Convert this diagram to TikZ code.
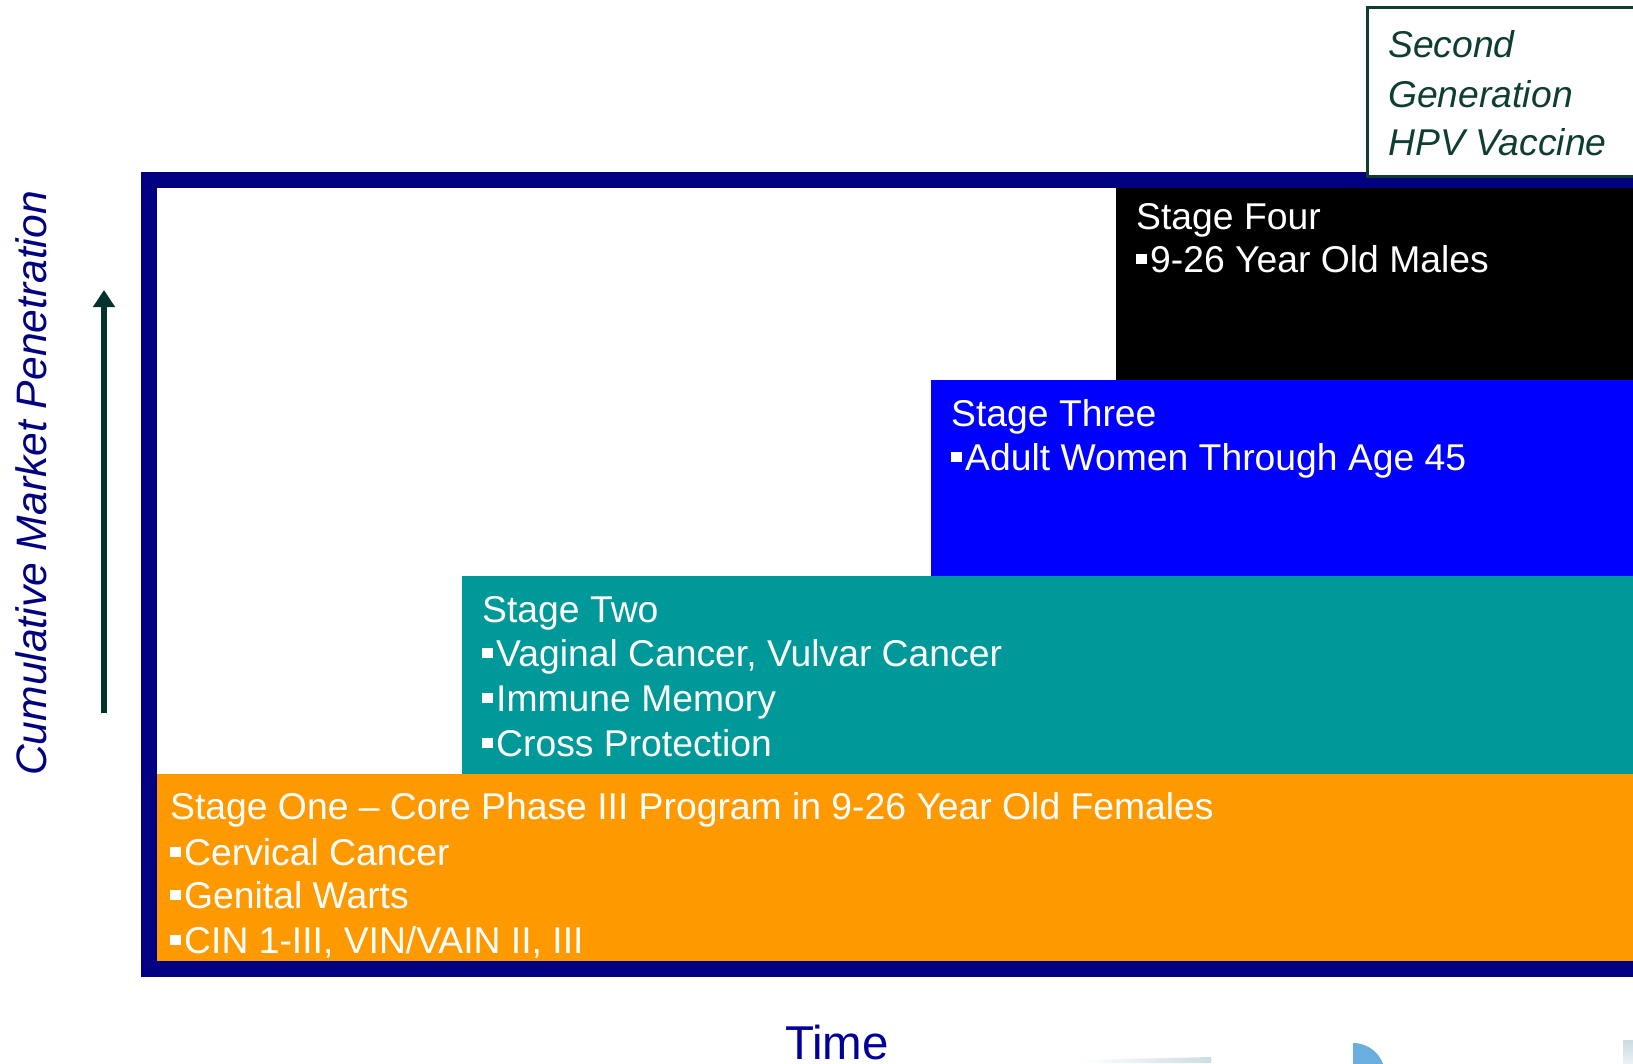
\documentclass[tikz,border=0pt]{standalone}
\usepackage{fontspec}
\setmainfont{Liberation Sans}
\usetikzlibrary{arrows.meta}
\definecolor{navyframe}{HTML}{000080}
\definecolor{orangeone}{HTML}{FF9900}
\definecolor{tealtwo}{HTML}{009999}
\definecolor{bluethree}{HTML}{0000FF}
\definecolor{darkgreen}{HTML}{0F3D33}
\definecolor{arrowgreen}{HTML}{00332B}
\definecolor{timeblue}{HTML}{000099}
\definecolor{pieblue}{HTML}{6AAEE0}
\definecolor{palegray}{HTML}{CCDCE3}
\newcommand\bul{\rule[8pt]{11pt}{10pt}\kern3pt}
\tikzset{
  stagebox/.style={draw=none, inner sep=0pt, anchor=north west, minimum width=1600pt},
  stagetext/.style={text=white, inner sep=0pt, anchor=base west, font=\fontsize{37.3}{44}\selectfont},
  gentext/.style={text=darkgreen, inner sep=0pt, anchor=base west, font=\fontsize{37.3}{44}\selectfont\itshape},
}
\begin{document}
\begin{tikzpicture}[x=1pt,y=-1pt]
\useasboundingbox (0,0) rectangle (1633,1063);
\clip (0,0) rectangle (1633,1063);
\fill[white] (0,0) rectangle (1633,1063);

% stage boxes
\node[stagebox, fill=black, minimum height=193pt] (s4) at (1116,187) {};
\node[stagebox, fill=bluethree, minimum height=196pt] (s3) at (931,380) {};
\node[stagebox, fill=tealtwo, minimum height=198pt] (s2) at (462,576) {};
\node[stagebox, fill=orangeone, minimum height=187pt] (s1) at (157,774) {};

% frame
\draw[navyframe, line width=16pt] (1700,179.5) -- (149,179.5) -- (149,969) -- (1700,969);

% stage texts
\node[stagetext] (t4a) at (1136,229) {Stage Four};
\node[stagetext] (t4b) at (1136,272) {\bul 9-26 Year Old Males};

\node[stagetext] (t3a) at (951,426) {Stage Three};
\node[stagetext] (t3b) at (951,470) {\bul Adult Women Through Age 45};

\node[stagetext] (t2a) at (482,622) {Stage Two};
\node[stagetext] (t2b) at (482,666) {\bul Vaginal Cancer, Vulvar Cancer};
\node[stagetext] (t2c) at (482,711) {\bul Immune Memory};
\node[stagetext] (t2d) at (482,756) {\bul Cross Protection};

\node[stagetext] (t1a) at (170,819) {Stage One -- Core Phase III Program in 9-26 Year Old Females};
\node[stagetext] (t1b) at (170,865) {\bul Cervical Cancer};
\node[stagetext] (t1c) at (170,908) {\bul Genital Warts};
\node[stagetext] (t1d) at (170,953) {\bul CIN 1-III, VIN/VAIN II, III};

% second generation box
\node[draw=darkgreen, line width=2.5pt, fill=white, inner sep=0pt, anchor=north west,
      minimum width=300pt, minimum height=169pt] (gen) at (1366,6) {};
\node[gentext] (g1) at (1388,57) {Second};
\node[gentext] (g2) at (1388,107) {Generation};
\node[gentext] (g3) at (1388,155) {HPV Vaccine};

% y-axis label and arrow
\node[text=navyframe, inner sep=0pt, anchor=base, rotate=90,
      font=\fontsize{42.6}{50}\selectfont\itshape] (ylab) at (46,483.5) {Cumulative Market Penetration};
\coordinate (arrS) at (104,713);
\coordinate (arrE) at (104,290);
\draw[arrowgreen, line width=6pt, -{Triangle[width=21pt,length=17pt]}] (arrS) -- (arrE);

% x-axis label
\node[text=timeblue, inner sep=0pt, anchor=base, font=\fontsize{47.5}{56}\selectfont] (xlab) at (837,1059) {Time};

% cut-off artwork at bottom edge
\begin{scope}
  \clip (1353,1000) rectangle (1420,1063);
  \fill[pieblue] (1353,1075) circle[radius=32];
\end{scope}
\shade[left color=white, right color=palegray] (1080,1060) -- (1211,1057) -- (1211,1063) -- (1080,1063) -- cycle;
\shade[top color=palegray, bottom color=white!60!palegray] (1623,1040) rectangle (1633,1063);
\end{tikzpicture}
\end{document}
